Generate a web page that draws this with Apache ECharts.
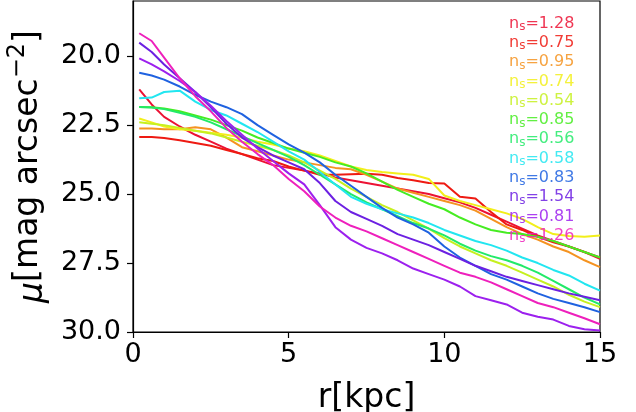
<!DOCTYPE html>
<html><head><meta charset="utf-8">
<script src="https://cdn.jsdelivr.net/npm/echarts@6/dist/echarts.min.js"></script>
<style>html,body{margin:0;padding:0;background:#fff}#c{width:636px;height:412px}</style>
</head><body><div id="c"></div>
<script>
// radius samples (kpc)
const radii = [0.2,0.6,1,1.5,2,2.5,3,3.5,4,4.5,5,5.5,6,6.5,7,7.5,8,8.5,9,9.5,10,10.5,11,11.5,12,12.5,13,13.5,14,14.5,15];
// Sersic indices (legend labels)
const nsLabels = ['1.28','0.75','0.95','0.74','0.54','0.85','0.56','0.58','0.83','1.54','0.81','1.26'];
const colors = ['#ec1234','#ee1a12','#f59320','#f2ef1a','#c6f020','#46ec22','#22ea68','#22e6f0','#1f62e0','#6c20e2','#9c20ee','#ee20bc'];
// surface brightness profiles (mag arcsec^-2)
const mu_128 = [21.2,21.75,22.2,22.55,22.85,23.1,23.35,23.55,23.75,23.95,24.05,24.15,24.25,24.4,24.5,24.6,24.7,24.8,24.9,25.0,25.15,25.3,25.5,25.75,26.0,26.25,26.5,26.7,26.9,27.1,27.35];
const mu_075 = [22.93,22.93,22.97,23.05,23.15,23.25,23.4,23.55,23.7,23.8,24.0,24.15,24.3,24.3,24.28,24.26,24.3,24.42,24.5,24.6,24.62,25.1,25.16,25.65,26.1,26.3,26.55,26.75,26.9,27.1,27.3];
const mu_095 = [22.62,22.62,22.65,22.65,22.58,22.65,22.95,23.3,23.45,23.6,23.75,23.85,23.95,24.05,24.1,24.3,24.55,24.8,24.95,25.1,25.25,25.4,25.6,25.9,26.2,26.45,26.65,26.9,27.1,27.4,27.65];
const mu_074 = [22.26,22.4,22.55,22.65,22.7,22.78,22.85,22.95,23.1,23.2,23.35,23.45,23.6,23.8,24.0,24.13,24.2,24.25,24.3,24.45,25.05,25.25,25.4,25.55,25.7,25.9,26.2,26.45,26.52,26.55,26.5];
const mu_054 = [22.4,22.45,22.5,22.6,22.7,22.8,22.95,23.1,23.25,23.4,23.6,23.85,24.15,24.45,24.8,25.1,25.4,25.65,25.95,26.25,26.6,26.9,27.15,27.4,27.6,27.85,28.1,28.35,28.65,28.9,29.1];
const mu_085 = [21.84,21.85,21.9,22.0,22.15,22.3,22.5,22.7,22.95,23.15,23.35,23.5,23.65,23.85,24.0,24.25,24.55,24.85,25.1,25.35,25.55,25.85,26.1,26.3,26.4,26.45,26.55,26.7,26.9,27.1,27.3];
const mu_056 = [21.84,21.86,21.92,22.05,22.2,22.4,22.65,22.9,23.15,23.4,23.65,23.95,24.3,24.65,25.0,25.3,25.55,25.8,26.05,26.25,26.5,26.8,27.05,27.25,27.4,27.6,27.85,28.15,28.45,28.75,29.0];
const mu_058 = [21.53,21.5,21.3,21.25,21.65,21.95,22.15,22.45,22.75,23.1,23.45,23.75,24.2,24.65,25.1,25.35,25.55,25.7,25.85,26.05,26.3,26.5,26.7,26.85,27.05,27.3,27.5,27.75,27.95,28.25,28.5];
const mu_083 = [20.6,20.7,20.85,21.1,21.4,21.65,21.85,22.1,22.5,22.85,23.2,23.5,23.85,24.3,24.7,25.1,25.5,25.85,26.1,26.4,26.9,27.3,27.6,27.9,28.1,28.35,28.6,28.8,28.95,29.1,29.28];
const mu_154 = [19.51,19.85,20.3,20.8,21.3,21.85,22.45,22.95,23.3,23.6,23.85,24.1,24.6,25.25,25.65,25.9,26.15,26.45,26.65,26.85,27.1,27.35,27.6,27.8,28.0,28.15,28.3,28.45,28.6,28.72,28.85];
const mu_081 = [20.08,20.3,20.55,20.9,21.3,21.8,22.35,22.85,23.35,23.8,24.25,24.65,25.4,26.2,26.65,26.95,27.15,27.4,27.7,27.9,28.1,28.35,28.7,28.85,29.0,29.3,29.45,29.55,29.78,29.9,29.95];
const mu_126 = [19.17,19.45,20.05,20.8,21.45,22.0,22.6,23.1,23.55,23.95,24.45,24.9,25.45,25.85,26.15,26.35,26.6,26.85,27.1,27.35,27.6,27.85,28.0,28.2,28.45,28.7,28.95,29.1,29.3,29.5,29.72];
const profiles = [mu_128,mu_075,mu_095,mu_074,mu_054,mu_085,mu_056,mu_058,mu_083,mu_154,mu_081,mu_126];
const yTicks = [20,22.5,25,27.5,30];
const xTicks = [0,5,10,15];

function fade(hex,a){const n=parseInt(hex.slice(1),16);return 'rgba('+(n>>16&255)+','+(n>>8&255)+','+(n&255)+','+a+')';}
const font = 'DejaVu Sans';
const series = profiles.map((p,i)=>({
  name:'ns='+nsLabels[i], type:'line', showSymbol:false, symbol:'none',
  data: radii.map((r,j)=>[r,p[j]]),
  lineStyle:{width:2,color:colors[i]}, itemStyle:{color:colors[i]}, clip:true
}));
const chart = echarts.init(document.getElementById('c'),null,{renderer:'canvas'});
chart.setOption({
  animation:false,
  backgroundColor:'#fff',
  grid:{left:133,top:1,width:467,height:331,show:true,borderColor:'#000',borderWidth:1.2,backgroundColor:'transparent',
    containLabel:false,outerBoundsMode:'none'},
  legend:{
    orient:'vertical', left:499, top:9, icon:'none', itemWidth:0, itemHeight:10, itemGap:0.3,
    selectedMode:false,
    data: nsLabels.map((l,i)=>({name:'ns='+l, textStyle:{color:fade(colors[i],0.85)}})),
    formatter: name => '{n|n}{s|s}{n|='+name.slice(3)+'}',
    textStyle:{fontFamily:font,fontSize:16,lineHeight:19,
      rich:{n:{fontFamily:font,fontSize:16,lineHeight:19,verticalAlign:'middle'},
            s:{fontFamily:font,fontSize:12,lineHeight:19,verticalAlign:'bottom'}}}
  },
  xAxis:{type:'value',min:0,max:15,interval:5,
    name:'r[kpc]',nameLocation:'middle',nameGap:50,
    nameTextStyle:{fontFamily:font,fontSize:33,color:'#000'},
    axisLine:{show:true,lineStyle:{color:'#000',width:1.2}},
    axisTick:{show:true,length:6,lineStyle:{color:'#000',width:1.2}},
    axisLabel:{fontFamily:font,fontSize:27,color:'#000',margin:9,customValues:xTicks},
    splitLine:{show:false}},
  yAxis:{type:'value',min:18,max:30,inverse:true,
    name:'{mu|μ}[mag arcsec{sup|−2}]',nameLocation:'middle',nameGap:68,
    nameTextStyle:{fontFamily:font,fontSize:33,color:'#000',
      rich:{mu:{fontFamily:font,fontSize:33,fontStyle:'italic',color:'#000',lineHeight:44,verticalAlign:'bottom'},
            sup:{fontFamily:font,fontSize:24,color:'#000',lineHeight:44,verticalAlign:'top'}}},
    axisLine:{show:true,lineStyle:{color:'#000',width:1.2}},
    axisTick:{show:true,length:6,lineStyle:{color:'#000',width:1.2},customValues:yTicks},
    axisLabel:{fontFamily:font,fontSize:27,color:'#000',margin:12,customValues:yTicks,
      formatter:v=>v.toFixed(1)},
    splitLine:{show:false}},
  series: series
});
</script></body></html>
